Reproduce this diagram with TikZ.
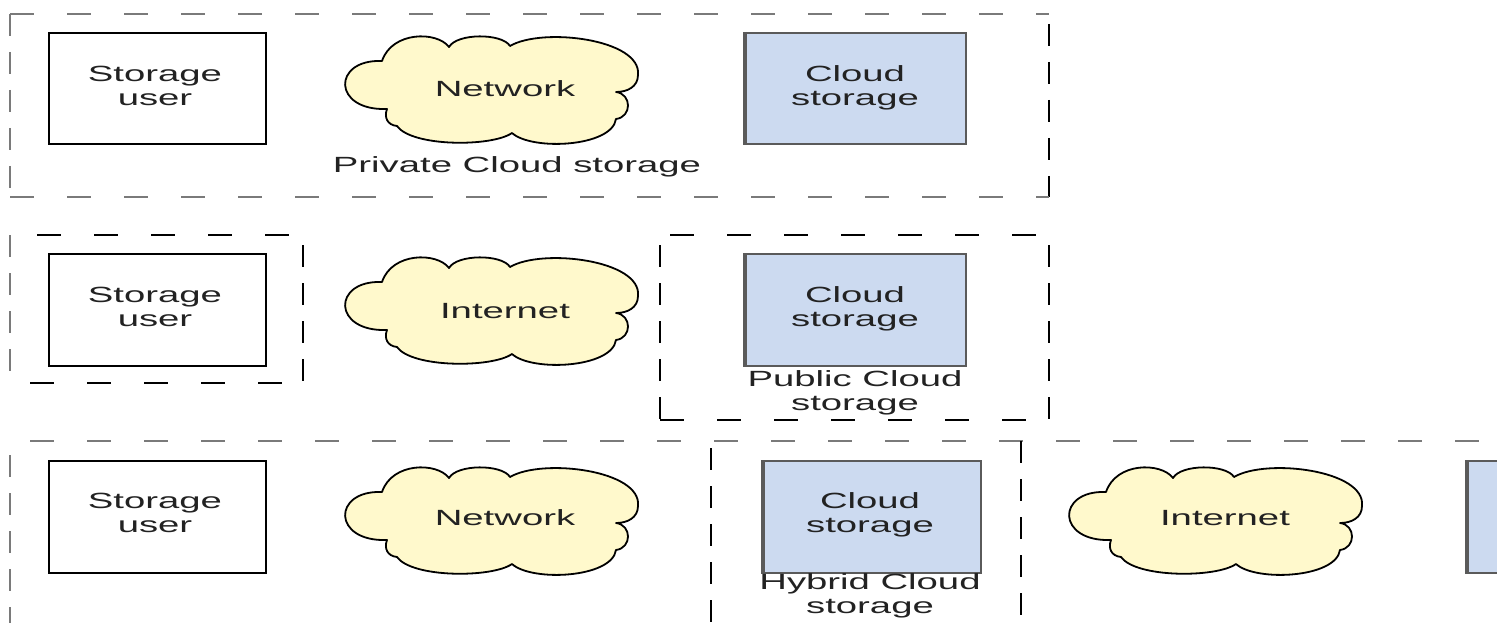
\documentclass[tikz,border=0pt]{standalone}
\usepackage{graphicx}
\usepackage{fontspec}
\setmainfont{Liberation Sans}
\definecolor{txtc}{HTML}{222222}
\definecolor{cloudfill}{HTML}{FFF9CC}
\definecolor{bluefill}{HTML}{CCDAF0}
\definecolor{blueedge}{HTML}{5A5A5A}
\definecolor{dashgray}{HTML}{7A7A7A}
\newcommand\stx[1]{\scalebox{1.74}[1]{\begin{tabular}{@{}c@{}}#1\end{tabular}}}
\tikzset{
  lbl/.style={inner sep=0pt, text=txtc, font=\fontsize{22}{24}\selectfont},
  userbox/.style={draw=black, line width=1.8pt, fill=white},
  storebox/.style={draw=blueedge, line width=1.8pt, fill=bluefill},
  hdash/.style={line width=2.6pt, dash pattern=on 24pt off 33pt},
  vdash/.style={line width=2.6pt, dash pattern=on 22pt off 16pt},
  cloudpic/.pic={
    \draw[line width=1.8pt, fill=cloudfill, line join=round]
      (-105,20) .. controls (-160,22) and (-160,-30) .. (-110,-28)
      .. controls (-100,-58) and (-55,-58) .. (-43,-42)
      .. controls (-35,-56) and (10,-56) .. (18,-43)
      .. controls (50,-62) and (150,-50) .. (146,-14)
      .. controls (146,-2) and (135,3) .. (124,3)
      .. controls (140,5) and (140,28) .. (124,30)
      .. controls (120,58) and (40,62) .. (20,44)
      .. controls (0,58) and (-80,58) .. (-95,37)
      .. controls (-105,36) and (-108,28) .. (-105,20) -- cycle;
  }
}
\begin{document}
\begin{tikzpicture}[x=1pt,y=-1pt]
\useasboundingbox (0,0) rectangle (1497,623);
\clip (0,0) rectangle (1497,623);

% ---------- Row 1: private ----------
\draw[hdash, dashgray] (10,14) -- (1049,14);
\draw[vdash, dashgray] (10,14) -- (10,197);
\draw[vdash, black] (1049,24) -- (1049,197);
\draw[hdash, dashgray] (10,197) -- (1049,197);

\node[userbox, minimum width=217pt, minimum height=111pt, anchor=north west] (u1) at (48,32) {};
\node[lbl] (u1t) at (155,89) {\stx{Storage\\user}};
\pic at (492,89) {cloudpic};
\node[lbl] (n1) at (505,92) {\stx{Network}};
\node[storebox, minimum width=220pt, minimum height=111pt, anchor=north west] (s1) at (745,32) {};
\draw[blueedge, line width=4pt] (s1.north west) -- (s1.south west);
\node[lbl] (s1t) at (855,89) {\stx{Cloud\\storage}};
\node[lbl] (p1) at (517,168) {\stx{Private Cloud storage}};

% ---------- Row 2: public ----------
\draw[vdash, dashgray] (10,235) -- (10,383);
\draw[hdash, black] (37,235) -- (303,235);
\draw[vdash, black] (303,245) -- (303,383);
\draw[hdash, black] (30,383) -- (303,383);

\draw[vdash, black] (660,245) -- (660,420);
\draw[hdash, black] (670,235) -- (1049,235);
\draw[vdash, black] (1049,245) -- (1049,420);
\draw[hdash, black] (660,420) -- (1049,420);

\node[userbox, minimum width=217pt, minimum height=112pt, anchor=north west] (u2) at (48,253) {};
\node[lbl] (u2t) at (155,310) {\stx{Storage\\user}};
\pic at (492,310) {cloudpic};
\node[lbl] (n2) at (505,314) {\stx{Internet}};
\node[storebox, minimum width=220pt, minimum height=112pt, anchor=north west] (s2) at (745,253) {};
\draw[blueedge, line width=4pt] (s2.north west) -- (s2.south west);
\node[lbl] (s2t) at (855,310) {\stx{Cloud\\storage}};
\node[lbl] (p2) at (855,394) {\stx{Public Cloud\\storage}};

% ---------- Row 3: hybrid ----------
\draw[hdash, dashgray] (30,441) -- (1497,441);
\draw[vdash, dashgray] (10,455) -- (10,623);
\draw[vdash, black] (711,448) -- (711,623);
\draw[vdash, black] (1021,441) -- (1021,623);

\node[userbox, minimum width=217pt, minimum height=112pt, anchor=north west] (u3) at (48,460) {};
\node[lbl] (u3t) at (155,516) {\stx{Storage\\user}};
\pic at (492,520) {cloudpic};
\node[lbl] (n3) at (505,521) {\stx{Network}};
\node[storebox, minimum width=217pt, minimum height=112pt, anchor=north west] (s3) at (763,460) {};
\draw[blueedge, line width=4pt] (s3.north west) -- (s3.south west);
\node[lbl] (s3t) at (870,516) {\stx{Cloud\\storage}};
\node[lbl] (p3) at (870,597) {\stx{Hybrid Cloud\\storage}};
\pic at (1216,520) {cloudpic};
\node[lbl] (n4) at (1225,521) {\stx{Internet}};
\node[storebox, minimum width=217pt, minimum height=112pt, anchor=north west] (s4) at (1467,460) {};
\draw[blueedge, line width=4pt] (s4.north west) -- (s4.south west);
\end{tikzpicture}
\end{document}
